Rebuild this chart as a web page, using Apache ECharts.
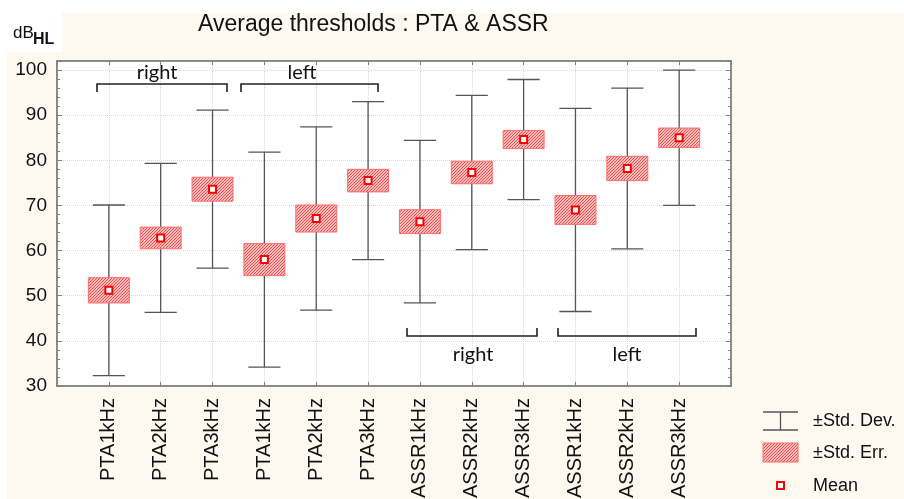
<!DOCTYPE html>
<html><head><meta charset="utf-8">
<script src="https://cdn.jsdelivr.net/npm/echarts/dist/echarts.min.js"></script>
<style>html,body{margin:0;padding:0;background:#fff}#c{width:904px;height:499px}</style>
</head><body><div id="c"></div>
<script>
const categories = ['PTA1kHz','PTA2kHz','PTA3kHz','PTA1kHz','PTA2kHz','PTA3kHz','ASSR1kHz','ASSR2kHz','ASSR3kHz','ASSR1kHz','ASSR2kHz','ASSR3kHz'];
const means  = [51.2, 62.8, 73.6, 58.0, 67.1, 75.5, 66.4, 77.3, 84.6, 69.0, 78.2, 85.0];
const stdErr = [2.8, 2.4, 2.65, 3.55, 3.0, 2.5, 2.65, 2.5, 2.0, 3.2, 2.7, 2.15];
const stdDev = [18.9, 16.5, 17.5, 23.8, 20.3, 17.5, 18.0, 17.1, 13.3, 22.5, 17.8, 15.0];
const yTickLabels = [30, 40, 50, 60, 70, 80, 90, 100];
const groupLabels = ['right', 'left', 'right', 'left'];
const legendLabels = ['±Std. Dev.', '±Std. Err.', 'Mean'];

const FONT = '"Liberation Sans", Arial, sans-serif';
const ANNOT_FONT = 'Lato, "Open Sans", sans-serif';

// hatch pattern
const pc = document.createElement('canvas'); pc.width = 3; pc.height = 3;
const ctx = pc.getContext('2d');
ctx.fillStyle = '#fbbcbc'; ctx.fillRect(0, 0, 3, 3);
ctx.strokeStyle = '#ec4e4e'; ctx.lineWidth = 1;
ctx.beginPath();
ctx.moveTo(0, 3); ctx.lineTo(3, 0);
ctx.moveTo(-1, 1); ctx.lineTo(1, -1);
ctx.moveTo(2, 4); ctx.lineTo(4, 2);
ctx.stroke();
const pattern = { image: pc, repeat: 'repeat' };

const seriesData = categories.map((c, i) => [i + 1, means[i], stdErr[i], stdDev[i]]);

function renderItem(params, api) {
  const x = api.value(0), m = api.value(1), se = api.value(2), sd = api.value(3);
  const c = api.coord([x, m]);
  const sdTop = api.coord([x, m + sd])[1], sdBot = api.coord([x, m - sd])[1];
  const seTop = api.coord([x, m + se])[1], seBot = api.coord([x, m - se])[1];
  const band = api.size([1, 0])[0];
  const bw = band * 0.79, cw = band * 0.62;
  const ls = { stroke: '#555', lineWidth: 1.3 };
  return { type: 'group', children: [
    { type: 'line', shape: { x1: c[0], y1: sdTop, x2: c[0], y2: sdBot }, style: ls },
    { type: 'line', shape: { x1: c[0] - cw / 2, y1: sdTop, x2: c[0] + cw / 2, y2: sdTop }, style: ls },
    { type: 'line', shape: { x1: c[0] - cw / 2, y1: sdBot, x2: c[0] + cw / 2, y2: sdBot }, style: ls },
    { type: 'rect', shape: { x: c[0] - bw / 2, y: seTop, width: bw, height: seBot - seTop }, style: { fill: pattern, stroke: '#ff6c6c', lineWidth: 1 } },
    { type: 'rect', shape: { x: c[0] - 3.5, y: c[1] - 3.5, width: 7, height: 7 }, style: { fill: '#fff', stroke: '#ff0000', lineWidth: 2 } }
  ]};
}

const axisCol = '#808080';
const splitStyle = { show: true, lineStyle: { color: '#d8d8d8', type: 'dotted', width: 1 } };

function bracket(x1, x2, y, dir) {
  return { type: 'polyline', shape: { points: [[x1, y + dir * 8], [x1, y], [x2, y], [x2, y + dir * 8]] },
    style: { stroke: '#222', lineWidth: 1.6, fill: null }, z: 100 };
}
function annText(t, x, y) {
  return { type: 'text', x: x, y: y, style: { text: t, fontSize: 20, fontFamily: ANNOT_FONT, fill: '#111', align: 'center', verticalAlign: 'middle' }, z: 100 };
}

const option = {
  backgroundColor: '#fdf9f1',
  animation: false,
  grid: { left: 57, right: 173, top: 61, bottom: 113, show: true, backgroundColor: '#fff', borderColor: axisCol, borderWidth: 1.5, outerBoundsMode: 'none', containLabel: false },
  xAxis: [
    { type: 'value', min: 0, max: 13, interval: 1, position: 'bottom',
      axisLine: { show: true, onZero: false, lineStyle: { color: axisCol, width: 1.5 } },
      axisTick: { show: true, inside: true, length: 4, lineStyle: { color: axisCol } },
      axisLabel: { rotate: 90, margin: 12, fontSize: 20, fontFamily: FONT, color: '#111', showMinLabel: true, showMaxLabel: true, hideOverlap: false,
        formatter: v => categories[v - 1] || '' },
      splitLine: splitStyle },
    { type: 'value', min: 0, max: 13, interval: 1, position: 'top',
      axisLine: { show: true, onZero: false, lineStyle: { color: axisCol, width: 1.5 } },
      axisTick: { show: true, inside: true, length: 4, lineStyle: { color: axisCol } },
      axisLabel: { show: false }, splitLine: { show: false } }
  ],
  yAxis: [
    { type: 'value', min: 30, max: 102, interval: 10, position: 'left',
      axisLine: { show: true, onZero: false, lineStyle: { color: axisCol, width: 1.5 } },
      axisTick: { show: true, inside: true, length: 5, lineStyle: { color: axisCol } },
      minorTick: { show: true, splitNumber: 5, length: 3, lineStyle: { color: axisCol } },
      axisLabel: { margin: 10, fontSize: 19, fontFamily: FONT, color: '#111',
        formatter: v => (yTickLabels.indexOf(v) >= 0 ? String(v) : '') },
      splitLine: splitStyle },
    { type: 'value', min: 30, max: 102, interval: 10, position: 'right',
      axisLine: { show: true, onZero: false, lineStyle: { color: axisCol, width: 1.5 } },
      axisTick: { show: true, inside: true, length: 5, lineStyle: { color: axisCol } },
      minorTick: { show: true, splitNumber: 5, length: 3, lineStyle: { color: axisCol } },
      axisLabel: { show: false }, splitLine: { show: false } }
  ],
  series: [{ type: 'custom', xAxisIndex: 0, yAxisIndex: 0, renderItem: renderItem, data: seriesData, clip: false, z: 10 }],
  graphic: [
    { type: 'rect', shape: { x: 0, y: 0, width: 904, height: 13 }, style: { fill: '#fff' } },
    { type: 'rect', shape: { x: 0, y: 0, width: 7, height: 499 }, style: { fill: '#fff' } },
    { type: 'rect', shape: { x: 7, y: 13, width: 55, height: 39 }, style: { fill: '#fff' } },
    { type: 'text', x: 13, y: 33, style: { text: 'dB', fontSize: 17, fontFamily: FONT, fill: '#111', verticalAlign: 'middle' } },
    { type: 'text', x: 33, y: 40, style: { text: 'HL', fontSize: 16, fontWeight: 'bold', fontFamily: FONT, fill: '#111', verticalAlign: 'middle' } },
    { type: 'text', x: 198, y: 25, style: { text: 'Average thresholds : PTA & ASSR', fontSize: 23, fontFamily: FONT, fill: '#111', verticalAlign: 'middle' } },
    bracket(97, 227, 84, 1), annText(groupLabels[0], 157, 73),
    bracket(241, 378, 84, 1), annText(groupLabels[1], 302, 73),
    bracket(407, 537, 336, -1), annText(groupLabels[2], 473, 355),
    bracket(558, 696, 336, -1), annText(groupLabels[3], 627, 355),
    // legend
    { type: 'line', shape: { x1: 763, y1: 412, x2: 798, y2: 412 }, style: { stroke: '#555', lineWidth: 1.3 } },
    { type: 'line', shape: { x1: 763, y1: 430, x2: 798, y2: 430 }, style: { stroke: '#555', lineWidth: 1.3 } },
    { type: 'line', shape: { x1: 780.5, y1: 412, x2: 780.5, y2: 430 }, style: { stroke: '#555', lineWidth: 1.3 } },
    { type: 'text', x: 813, y: 421, style: { text: legendLabels[0], fontSize: 18, fontFamily: FONT, fill: '#111', verticalAlign: 'middle' } },
    { type: 'rect', shape: { x: 763, y: 443, width: 35, height: 19 }, style: { fill: pattern, stroke: '#ff6c6c', lineWidth: 1 } },
    { type: 'text', x: 813, y: 453, style: { text: legendLabels[1], fontSize: 18, fontFamily: FONT, fill: '#111', verticalAlign: 'middle' } },
    { type: 'rect', shape: { x: 777, y: 482, width: 7, height: 7 }, style: { fill: '#fff', stroke: '#ff0000', lineWidth: 2 } },
    { type: 'text', x: 813, y: 486, style: { text: legendLabels[2], fontSize: 18, fontFamily: FONT, fill: '#111', verticalAlign: 'middle' } }
  ]
};

const chart = echarts.init(document.getElementById('c'), null, { renderer: 'canvas' });
chart.setOption(option);
</script>
</body></html>
